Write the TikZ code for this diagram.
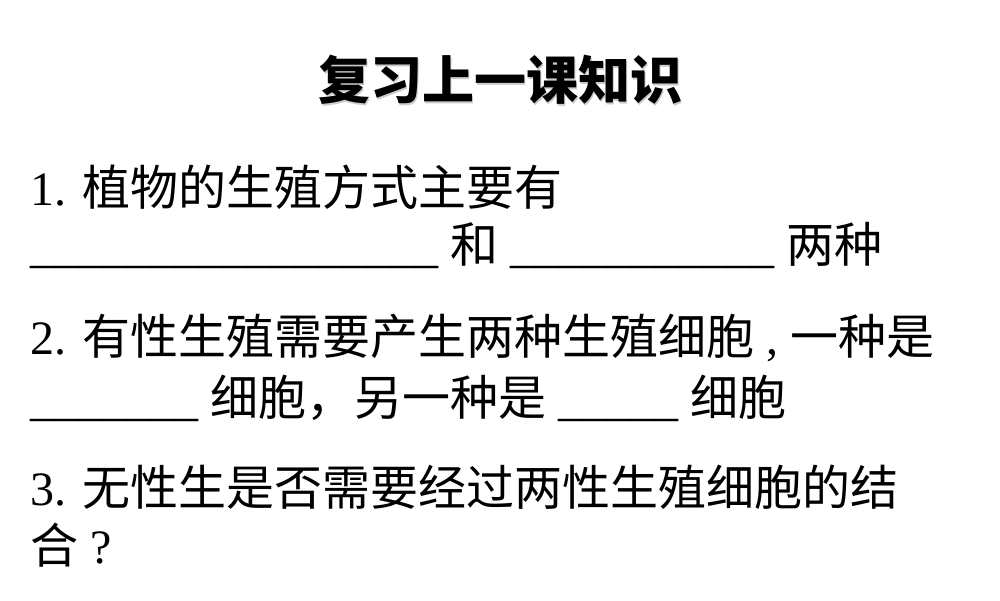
\documentclass[tikz,border=0pt]{standalone}
\usepackage{fontspec}
\setmainfont{Liberation Serif}
\newfontfamily\cjk{Noto Sans CJK SC}
\begin{document}
\begin{tikzpicture}[x=1pt,y=-1pt,
  body/.style={anchor=west,inner sep=0pt,font=\fontsize{48}{52}\selectfont}]
\useasboundingbox (0,0) rectangle (1000,600);
\node[inner sep=0pt,font=\fontsize{52}{58}\selectfont\bfseries\cjk,text=black!20] (ts) at (501.5,81.5) {复习上一课知识};
\node[inner sep=0pt,font=\fontsize{52}{58}\selectfont\bfseries\cjk] (t) at (500,80) {复习上一课知识};
\node[body] (l1) at (30,187) {1. {\cjk 植物的生殖方式主要有}};
\node[body] (l2) at (30,245) {\_\_\_\_\_\_\_\_\_\_\_\_\_\_\_\_\_ {\cjk 和} \_\_\_\_\_\_\_\_\_\_\_ {\cjk 两种}};
\node[body] (l3) at (30,338) {2. {\cjk 有性生殖需要产生两种生殖细胞} , {\cjk 一种是}};
\node[body] (l4) at (30,398) {\_\_\_\_\_\_\_ {\cjk 细胞，另一种是} \_\_\_\_\_ {\cjk 细胞}};
\node[body] (l5) at (30,487) {3. {\cjk 无性生是否需要经过两性生殖细胞的结}};
\node[body] (l6) at (30,545) {{\cjk 合} ?};
\end{tikzpicture}
\end{document}
